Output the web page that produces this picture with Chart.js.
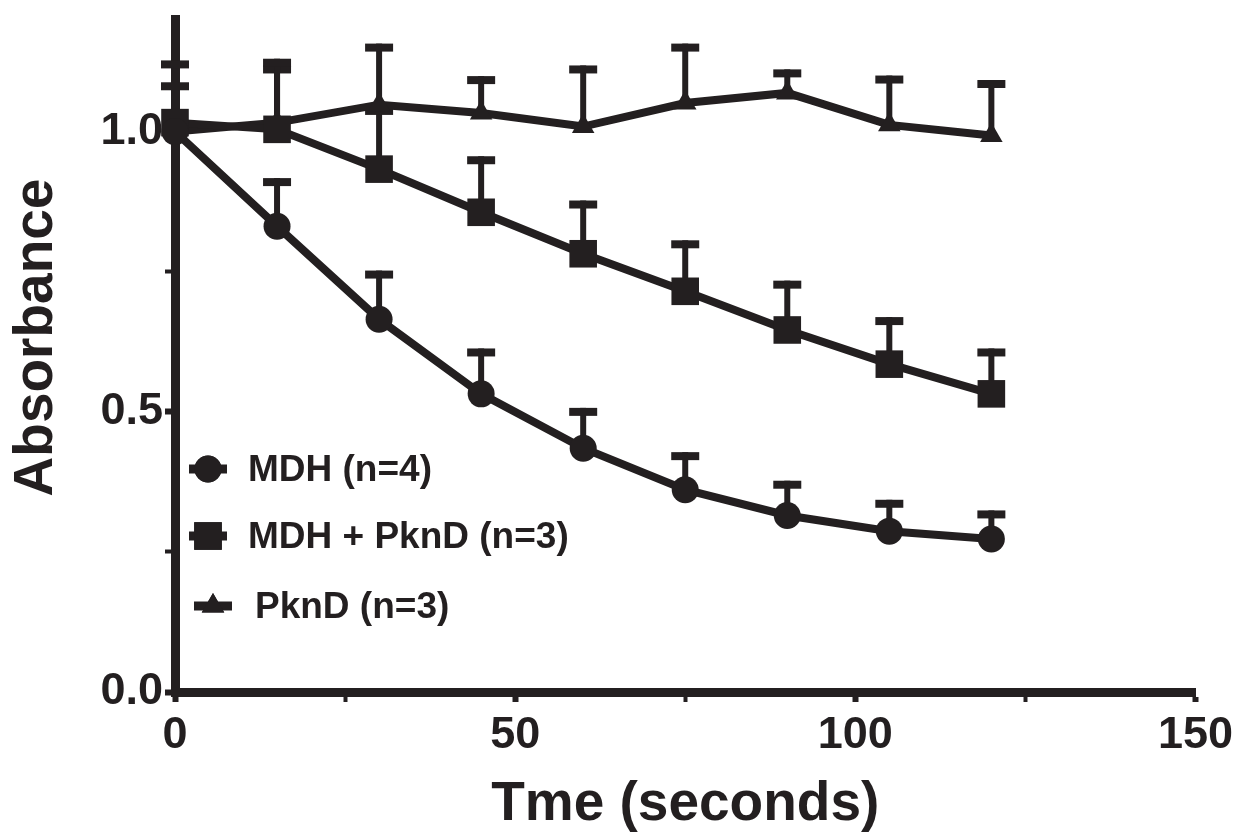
<!DOCTYPE html>
<html><head><meta charset="utf-8">
<script src="https://cdn.jsdelivr.net/npm/chart.js@4/dist/chart.umd.min.js"></script>
<style>html,body{margin:0;padding:0;background:#fff;} canvas{display:block;}</style>
</head><body>
<canvas id="c" width="1240" height="832"></canvas>
<script>
const times = [0, 15, 30, 45, 60, 75, 90, 105, 120];
const mdhMean  = [1.000, 0.831, 0.665, 0.532, 0.435, 0.361, 0.315, 0.287, 0.273];
const mdhErr   = [0.000, 0.086, 0.087, 0.081, 0.072, 0.067, 0.062, 0.056, 0.051];
const mixMean  = [1.016, 1.004, 0.933, 0.856, 0.782, 0.715, 0.646, 0.585, 0.532];
const mixErr   = [0.072, 0.114, 0.111, 0.100, 0.095, 0.091, 0.088, 0.084, 0.081];
const pkndMean = [1.000, 1.016, 1.048, 1.033, 1.009, 1.051, 1.069, 1.012, 0.993];
const pkndErr  = [0.127, 0.114, 0.109, 0.066, 0.109, 0.106, 0.042, 0.088, 0.099];
const seriesLabels = ['MDH (n=4)', 'MDH + PknD (n=3)', 'PknD (n=3)'];
const xTickLabels = [0, 50, 100, 150];
const yTickLabels = [0.0, 0.5, 1.0];
const xTitle = 'Tme (seconds)';
const yTitle = 'Absorbance';

const INK = '#231f20';
const FONT = "'Liberation Sans', Arial, Helvetica, sans-serif";

const means = [mdhMean, mixMean, pkndMean];
const errs = [mdhErr, mixErr, pkndErr];
const styles = ['circle', 'rect', 'triangle'];
const radii = [13.5, 19.5, 13];

const errorBars = {
  id: 'errorBars',
  beforeDatasetsDraw(chart) {
    const {ctx, scales: {x, y}} = chart;
    ctx.save();
    ctx.strokeStyle = INK;
    ctx.lineCap = 'butt';
    means.forEach((m, i) => {
      m.forEach((v, j) => {
        if (!errs[i][j]) return;
        const px = x.getPixelForValue(times[j]);
        const py = y.getPixelForValue(v);
        const pe = y.getPixelForValue(v + errs[i][j]);
        ctx.lineWidth = 6;
        ctx.beginPath(); ctx.moveTo(px, py); ctx.lineTo(px, pe); ctx.stroke();
        ctx.lineWidth = 8;
        ctx.beginPath(); ctx.moveTo(px - 14, pe + 4); ctx.lineTo(px + 14, pe + 4); ctx.stroke();
      });
    });
    ctx.restore();
  }
};

const insideLegend = {
  id: 'insideLegend',
  afterDatasetsDraw(chart) {
    const {ctx} = chart;
    const rows = [469, 536, 606];
    ctx.save();
    ctx.fillStyle = INK;
    ctx.strokeStyle = INK;
    ctx.font = 'bold 37px ' + FONT;
    ctx.textBaseline = 'middle';
    seriesLabels.forEach((lab, i) => {
      const cy = rows[i];
      const cx = i === 2 ? 213 : 208;
      ctx.lineWidth = 9;
      ctx.beginPath(); ctx.moveTo(cx - 19, cy); ctx.lineTo(cx + 19, cy); ctx.stroke();
      Chart.helpers.drawPoint(ctx, {pointStyle: styles[i], radius: radii[i], rotation: 0, borderWidth: 0}, cx, cy);
      ctx.fill();
      ctx.fillText(lab, i === 2 ? 255 : 248, cy + 2);
    });
    ctx.restore();
  }
};

const yAxisTitle = {
  id: 'yAxisTitle',
  afterDraw(chart) {
    const {ctx, chartArea} = chart;
    ctx.save();
    ctx.fillStyle = INK;
    ctx.font = 'bold 55px ' + FONT;
    ctx.textAlign = 'center';
    ctx.textBaseline = 'alphabetic';
    ctx.translate(chartArea.left - 123, chartArea.top + 318);
    ctx.rotate(-Math.PI / 2);
    ctx.fillText(yTitle, 0, 0);
    ctx.restore();
  }
};

const datasets = seriesLabels.map((lab, i) => ({
  label: lab,
  data: times.map((t, j) => ({x: t, y: means[i][j]})),
  borderColor: INK,
  backgroundColor: INK,
  borderWidth: 8,
  pointStyle: styles[i],
  pointRadius: radii[i],
  pointBorderWidth: 0,
  pointBackgroundColor: INK,
  tension: 0,
  clip: false
}));

const isMajorX = v => xTickLabels.includes(v);
const isMajorY = v => yTickLabels.some(t => Math.abs(t - v) < 1e-6);

new Chart(document.getElementById('c'), {
  type: 'line',
  data: {datasets},
  plugins: [errorBars, insideLegend, yAxisTitle],
  options: {
    responsive: false,
    animation: false,
    layout: {padding: {top: 9, right: 42, left: 0, bottom: 0}},
    plugins: {legend: {display: false}, tooltip: {enabled: false}},
    scales: {
      x: {
        type: 'linear', min: 0, max: 150,
        afterFit: s => { s.height = 140; s.paddingLeft = 0; },
        border: {display: true, color: INK, width: 9},
        grid: {drawOnChartArea: false, drawTicks: true, tickLength: 10, tickColor: INK,
          tickWidth: c => (c.tick && isMajorX(c.tick.value)) ? 6 : 4},
        ticks: {
          stepSize: 25, includeBounds: false, maxRotation: 0, autoSkip: false, padding: 7,
          color: INK, font: {family: FONT, size: 45, weight: 'bold'},
          callback: v => isMajorX(v) ? String(v) : ''
        },
        title: {display: true, text: xTitle, color: INK, padding: {top: 0, bottom: 0},
          font: {family: FONT, size: 55, weight: 'bold', lineHeight: 1.0}}
      },
      y: {
        type: 'linear', min: 0, max: 1.2,
        afterFit: s => { s.width = 175; s.paddingTop = 0; s.paddingBottom = 0; },
        border: {display: true, color: INK, width: 9},
        grid: {drawOnChartArea: false, drawTicks: true, tickLength: 10, tickColor: INK,
          tickWidth: c => (c.tick && isMajorY(c.tick.value)) ? 6 : 4},
        ticks: {
          stepSize: 0.25, includeBounds: false, autoSkip: false, padding: 2,
          color: INK, font: {family: FONT, size: 45, weight: 'bold'},
          callback: v => isMajorY(v) ? v.toFixed(1) : ''
        },
        title: {display: false}
      }
    }
  }
});
</script>
</body></html>
